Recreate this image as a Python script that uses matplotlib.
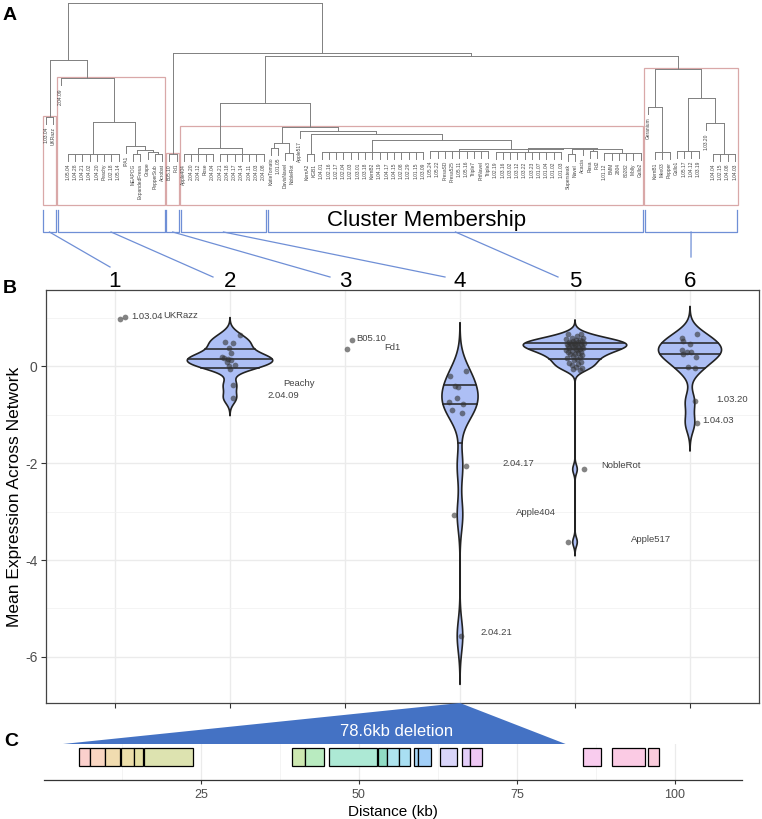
import numpy as np
import matplotlib.pyplot as plt
from matplotlib.patches import Polygon, Rectangle
from matplotlib.lines import Line2D
from matplotlib.transforms import blended_transform_factory

plt.rcParams['font.family'] = ['Liberation Sans', 'DejaVu Sans']
plt.rcParams['axes.unicode_minus'] = False

W, H = 762, 819

# ---------- panel A: dendrogram, [merge height, children...], strings are leaves
clade1 = [0.26, '1.03.04', 'UKRazz']
clade2 = [0.51, '2.04.09',
          [0.23,
           [0.02, '1.05.04', '1.04.28', '1.04.21', '1.04.02', '1.04.20', 'Peachy', '1.02.18', '1.05.14'],
           [0.07, 'IPA1',
            [0.045, [0.02, 'MEAPOG', 'ExpandedFresa'],
             [0.03, 'Grape', [0.02, 'PepperSub', 'Acrobat']]]]]]
clade3 = [0.02, 'B05.10', 'Fd1']
clade4 = [0.06,
          [0.02, 'Apple404', '2.04.20', '2.04.12', 'Rose', '2.04.04'],
          [0.02, '2.04.21', '2.04.18', '2.04.17', '2.04.14', '2.04.11', '2.04.03', '2.04.08']]
clade5 = [0.195,
          [0.09, [0.06, 'KatieTomato', '1.01.05'], [0.025, 'DavisNavel', 'NobleRot']],
          [0.17, 'Apple517',
           [0.15, [0.02, 'KernA2', 'KGB1'],
            [0.11,
             [0.03, '1.04.01', '1.02.16', '1.02.17', '1.02.04', '1.02.03', '1.03.01', '1.03.18', 'KernB2',
              '1.04.19', '1.04.17', '1.04.15', '1.02.08', '1.02.29', '1.01.15', '1.03.09'],
             [0.05,
              [0.04, '1.05.24', '1.05.22', 'FresaSD', 'Fresa525', '1.05.11', '1.05.16', 'Triple7',
               'PrtNavel', 'Triple3'],
              [0.06,
               [0.035, '1.02.19', '1.03.16', '1.03.02', '1.03.12', '1.03.22', '1.03.23', '1.01.07',
                '1.01.04', '1.01.02', '1.01.03'],
               [0.055, [0.02, 'Supersteak', 'Navel'], 'Acacia', [0.04, 'Rasa', 'Fd2'],
                [0.025, '1.01.12', 'BMM', '2804', '80282', 'Molly', 'Gallo2']]]]]]]]
clade6 = [0.57,
          [0.325, 'Geranium', [0.03, 'KernB1', 'Mex03', 'Pepper']],
          [0.38, [0.04, 'Gallo1', '1.05.17', '1.04.12', '1.03.19'],
           [0.22, '1.03.20', [0.02, '1.04.04', '1.02.15', '1.04.08', '1.04.03']]]]
tree = [1.0, [0.63, clade1, clade2], [0.675, clade3, [0.655, [0.35, clade4, clade5], clade6]]]
clusters = [clade1, clade2, clade3, clade4, clade5, clade6]
box_groups = [[clade1], [clade2], [clade3], [clade4, clade5], [clade6]]

# ---------- panel B: mean expression per genotype in each cluster
expr = {
    1: [0.97, 1.01],
    2: [0.64, 0.50, 0.48, 0.37, 0.27, 0.19, 0.17, 0.14, 0.12, 0.08, 0.03, 0.00, -0.06, -0.39, -0.66],
    3: [0.35, 0.53],
    4: [-0.10, -0.21, -0.41, -0.43, -0.65, -0.75, -0.78, -0.90, -0.96, -2.06, -3.07, -5.57],
    5: [0.67, 0.66, 0.62, 0.58, 0.57, 0.55, 0.54, 0.53, 0.52, 0.51,
        0.50, 0.49, 0.48, 0.48, 0.47, 0.46, 0.46, 0.45, 0.44, 0.43,
        0.42, 0.41, 0.40, 0.39, 0.38, 0.37, 0.36, 0.35, 0.34, 0.33,
        0.32, 0.30, 0.29, 0.27, 0.26, 0.24, 0.22, 0.20, 0.18, 0.16,
        0.14, 0.12, 0.09, 0.06, 0.04, 0.02, -0.01, -0.03, -0.06, -0.08,
        -2.13, -3.63],
    6: [0.66, 0.57, 0.52, 0.45, 0.33, 0.29, 0.29, 0.25, 0.19, -0.02, -0.04, -0.73, -1.18],
}
jitter = {
    1: [0.04, 0.09],
    2: [0.09, -0.04, 0.03, -0.01, 0.01, -0.07, -0.05, -0.02, 0.01, -0.03, 0.04, -0.01, 0.00, 0.03, 0.03],
    3: [0.02, 0.06],
    4: [0.05, -0.09, -0.04, -0.02, -0.03, -0.10, 0.03, -0.07, 0.02, 0.05, -0.05, 0.01],
    5: [-0.06, 0.05, 0.02, -0.03, 0.07, -0.08, 0.01, 0.04, -0.02, 0.06,
        -0.05, 0.03, -0.01, 0.08, -0.04, 0.02, -0.07, 0.05, 0.00, -0.03,
        0.06, -0.06, 0.03, -0.02, 0.07, -0.05, 0.01, 0.04, -0.08, 0.02,
        -0.03, 0.05, -0.06, 0.03, 0.00, -0.04, 0.06, -0.02, 0.04, -0.07,
        0.02, -0.01, 0.05, -0.05, 0.03, -0.03, 0.01, 0.06, -0.02, 0.04,
        0.08, -0.06],
    6: [0.06, -0.07, -0.06, 0.00, -0.07, -0.03, 0.01, -0.06, 0.05, -0.02, 0.04, 0.04, 0.06],
}
violin_clusters = [2, 4, 5, 6]
point_names = ['1.03.04', 'UKRazz', 'Peachy', '2.04.09', 'B05.10', 'Fd1', '2.04.17', 'Apple404',
               '2.04.21', 'NobleRot', 'Apple517', '1.03.20', '1.04.03']
name_x = [1.14, 1.42, 2.46, 2.33, 3.10, 3.34, 4.37, 4.49, 4.18, 5.23, 5.49, 6.23, 6.11]
name_y = [1.02, 1.05, -0.35, -0.60, 0.56, 0.39, -2.00, -3.01, -5.50, -2.06, -3.57, -0.68, -1.13]

# ---------- panel C: genes in the region (kb)
gene_start = [5.7, 7.5, 9.9, 12.3, 14.5, 16.0, 39.4, 41.5, 45.2, 53.0, 54.5, 56.4, 58.7, 59.3,
              62.9, 66.3, 67.5, 85.5, 90.0, 95.8]
gene_end = [7.5, 9.8, 12.2, 14.4, 15.8, 23.8, 41.5, 44.5, 52.8, 54.4, 56.3, 58.1, 59.3, 61.4,
            65.5, 67.5, 69.5, 88.3, 95.3, 97.4]
gene_col = ['#fbd0cc', '#f9d6c2', '#f1dcb0', '#ecdeaa', '#e5e0a6', '#dde3b0', '#cde8b1', '#b9ebc0',
            '#ade9d5', '#90dcc4', '#aee4ee', '#a9dff2', '#a8d6f6', '#a2cff8', '#d9d5fa', '#e3cdf9',
            '#eec8f4', '#f9ccee', '#fbcbe4', '#fbccdc']
del_start, del_end = 3.2, 82.7
del_cluster = 4


def px_rect(l, t, r, b):
    return [l / W, 1 - b / H, (r - l) / W, (b - t) / H]


fig = plt.figure(figsize=(W / 100, H / 100), dpi=100)
fig.patch.set_facecolor('white')
to_fig = fig.transFigure.inverted()

# ================= panel A =================
ax_a = fig.add_axes(px_rect(0, 0, W, 240))
ax_a.axis('off')
ax_a.set_xlim(-46 / 7.25, (W - 46) / 7.25)
ax_a.set_ylim((157 - 240) / 154, (157 - 0) / 154)

order = []
hang = 0.045
lc = '#808080'


def draw(node):
    if isinstance(node, str):
        order.append(node)
        return len(order) - 1, None
    h = node[0]
    xs = []
    for ch in node[1:]:
        x, hc = draw(ch)
        if hc is None:
            hc = h - hang
            ax_a.text(x, hc - 0.02, ch, rotation=90, ha='center', va='top',
                      fontsize=3.5, color='#444444')
        ax_a.plot([x, x], [hc, h], color=lc, lw=0.7)
        xs.append(x)
    ax_a.plot([xs[0], xs[-1]], [h, h], color=lc, lw=0.7)
    return (xs[0] + xs[-1]) / 2, h


def leaves(node):
    if isinstance(node, str):
        return [node]
    out = []
    for ch in node[1:]:
        out += leaves(ch)
    return out


draw(tree)

for grp in box_groups:
    names = sum([leaves(c) for c in grp], [])
    i0, i1 = order.index(names[0]), order.index(names[-1])
    top = max(c[0] for c in grp) + 0.008
    ax_a.add_patch(Rectangle((i0 - 0.45, -0.31), i1 - i0 + 0.85, top + 0.31,
                             fill=False, ec='#d9a8a8', lw=0.9))

bc = '#6f8fd6'
br_top, br_bot = -0.344, -0.487
bracket_mid = []
for c in clusters:
    names = leaves(c)
    i0, i1 = order.index(names[0]) - 0.4, order.index(names[-1]) + 0.35
    ax_a.plot([i0, i0, i1, i1], [br_top, br_bot, br_bot, br_top], color=bc, lw=0.9)
    bracket_mid.append(((i0 + i1) / 2, br_bot))

ax_a.text(np.mean([order.index('1.04.01'), order.index('Triple3')]) + 3, -0.41, 'Cluster Membership',
          ha='center', va='center', fontsize=16)

# ================= panel B =================
ax_b = fig.add_axes(px_rect(46, 290, 759, 703))
ax_b.set_xlim(0.4, 6.6)
ax_b.set_ylim(-6.95, 1.57)
ax_b.set_yticks([-6, -4, -2, 0])
ax_b.set_yticks([-5, -3, -1, 1], minor=True)
ax_b.set_xticks([1, 2, 3, 4, 5, 6])
ax_b.set_xticklabels([])
ax_b.grid(True, which='major', color='#ebebeb', lw=1.0)
ax_b.grid(True, which='minor', axis='y', color='#f2f2f2', lw=0.6)
ax_b.set_axisbelow(True)
ax_b.tick_params(which='major', length=3.5, pad=2.5, color='#333333', labelcolor='#4d4d4d', labelsize=10)
ax_b.tick_params(which='minor', length=0)
for s in ax_b.spines.values():
    s.set_color('#444444')
    s.set_linewidth(0.9)
ax_b.set_ylabel('Mean Expression Across Network', fontsize=12.5)
ax_b.yaxis.set_label_coords(-0.033, 0.5)


def kde(vals):
    v = np.asarray(vals, dtype=float)
    n = len(v)
    q75, q25 = np.percentile(v, [75, 25])
    bw = 0.9 * min(v.std(ddof=1), (q75 - q25) / 1.34) * n ** -0.2
    grid = np.linspace(v.min() - 3 * bw, v.max() + 3 * bw, 512)
    d = np.exp(-0.5 * ((grid[:, None] - v[None, :]) / bw) ** 2).sum(1) / (n * bw * np.sqrt(2 * np.pi))
    return grid, d


dens = {k: kde(expr[k]) for k in violin_clusters}
dmax = max(d.max() for g, d in dens.values())
for k in violin_clusters:
    g, d = dens[k]
    hw = d / dmax * 0.45
    xs = np.concatenate([k - hw, (k + hw)[::-1]])
    ys = np.concatenate([g, g[::-1]])
    ax_b.add_patch(Polygon(np.column_stack([xs, ys]), closed=True, fc='#adbff5', ec='#222222',
                           lw=1.2, zorder=2))
    cdf = np.cumsum(d) / d.sum()
    for q in [0.25, 0.5, 0.75]:
        yq = np.interp(q, cdf, g)
        w = np.interp(yq, g, d) / dmax * 0.45
        ax_b.plot([k - w, k + w], [yq, yq], color='#222222', lw=1.1, zorder=3)

for k in sorted(expr):
    ax_b.scatter(np.array(jitter[k]) + k, expr[k], s=17, color='#333333', alpha=0.6,
                 lw=0, zorder=4)

for t, x, y in zip(point_names, name_x, name_y):
    ax_b.text(x, y, t, fontsize=6.8, color='#444444', ha='left', va='center', zorder=5)

tb = blended_transform_factory(ax_b.transData, ax_b.transAxes)
for k in range(1, 7):
    ax_b.text(k, 1.007, str(k), transform=tb, ha='center', va='baseline', fontsize=16, clip_on=False)

# connectors from brackets to cluster numbers (offsets in px from number / axes top)
end_dx = [-5, -17, -15, -15, -17, 1]
end_dy = [23, 13, 13, 13, 13, 33]
top_px = ax_b.transAxes.transform((0, 1))[1]
for k, (mx, my) in enumerate(bracket_mid, start=1):
    p0 = to_fig.transform(ax_a.transData.transform((mx, my)))
    xd = ax_b.transData.transform((k, 0))[0] + end_dx[k - 1]
    p1 = to_fig.transform((xd, top_px + end_dy[k - 1]))
    fig.add_artist(Line2D([p0[0], p1[0]], [p0[1], p1[1]], color=bc, lw=0.9,
                          transform=fig.transFigure))

# ================= panel C =================
ax_c = fig.add_axes(px_rect(43.7, 744, 742, 780))
ax_c.set_xlim(0.14, 110.6)
ax_c.set_ylim(0, 1)
for s in ['top', 'left', 'right']:
    ax_c.spines[s].set_visible(False)
ax_c.spines['bottom'].set_color('#333333')
ax_c.spines['bottom'].set_linewidth(0.9)
ax_c.set_yticks([])
ax_c.set_xticks([25, 50, 75, 100])
ax_c.set_xticks([12.5, 37.5, 62.5, 87.5], minor=True)
ax_c.grid(True, which='major', axis='x', color='#ebebeb', lw=0.9)
ax_c.grid(True, which='minor', axis='x', color='#f3f3f3', lw=0.6)
ax_c.set_axisbelow(True)
ax_c.tick_params(which='major', length=3, color='#333333', labelcolor='#4d4d4d', labelsize=9)
ax_c.tick_params(which='minor', length=0)
ax_c.set_xlabel('Distance (kb)', fontsize=11, labelpad=3)
for s0, s1, c in zip(gene_start, gene_end, gene_col):
    ax_c.add_patch(Rectangle((s0, 0.38), s1 - s0, 0.5, fc=c, ec='black', lw=0.9))

# deletion triangle linking cluster 4 to the region
apex = to_fig.transform(ax_b.transData.transform((del_cluster, ax_b.get_ylim()[0])))
bl = to_fig.transform(ax_c.transData.transform((del_start, 1.0)))
br = to_fig.transform(ax_c.transData.transform((del_end, 1.0)))
fig.add_artist(Polygon([apex, bl, br], closed=True, fc='#4472c4', ec='none',
                       transform=fig.transFigure, zorder=3))
tx = to_fig.transform(ax_c.transData.transform((56, 1.36)))
fig.text(tx[0], tx[1], '78.6kb deletion', color='white', fontsize=12,
         ha='center', va='center', zorder=4)

# panel letters
for lab, x, y in [('A', 10, 16), ('B', 10, 288), ('C', 11, 742)]:
    fig.text(x / W, 1 - y / H, lab, fontsize=14, fontweight='bold', ha='center', va='center')

fig.savefig('out.png', dpi=100)
